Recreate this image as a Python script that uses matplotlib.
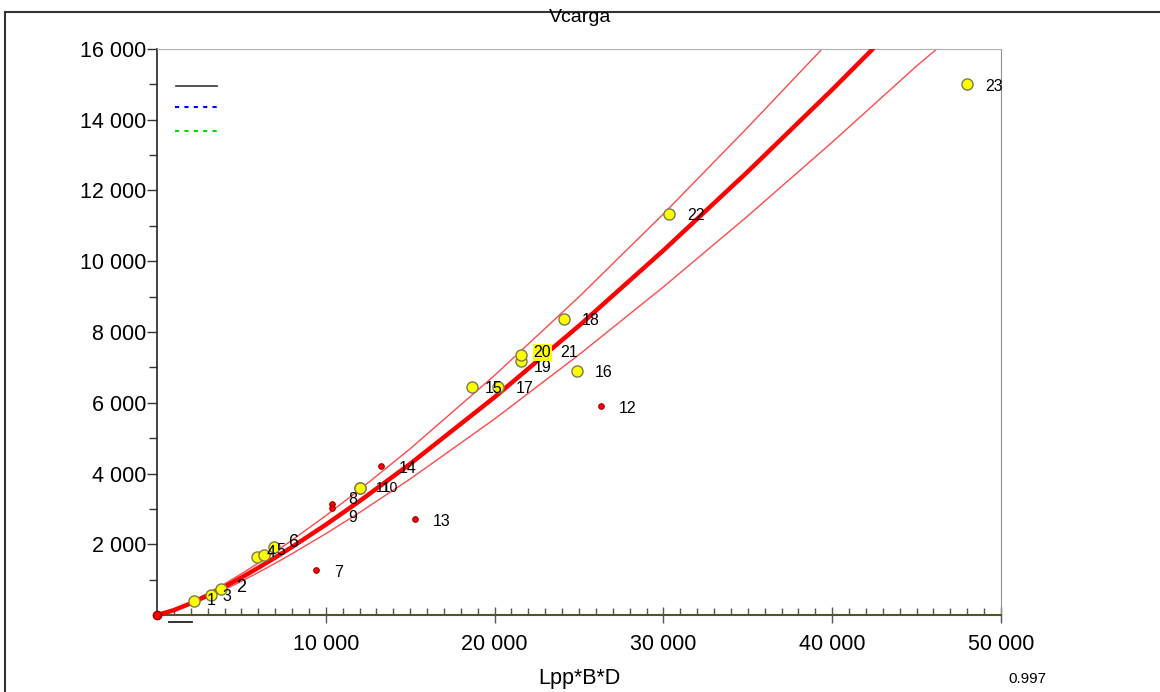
import numpy as np
import matplotlib
matplotlib.use("Agg")
import matplotlib.pyplot as plt
from matplotlib.lines import Line2D
from matplotlib.ticker import FixedLocator, FuncFormatter

plt.rcParams['font.family'] = ['Liberation Sans', 'DejaVu Sans']

# points
labels = ["1", "2", "3", "4", "5", "6", "7", "8", "9", "10", "11", "12",
          "13", "14", "15", "16", "17", "18", "19", "20", "21", "22", "23"]
lbd = [2190, 3790, 3200, 5900, 6340, 6930, 9420, 10370, 10370, 12050, 12050, 26300,
       15280, 13270, 18660, 24880, 20200, 24110, 21560, 21560, 22810, 30330, 47990]
vcarga = [396, 735, 565, 1640, 1700, 1920, 1270, 3140, 3020, 3590, 3590, 5910,
          2710, 4210, 6450, 6900, 6450, 8370, 7180, 7350, 7490, 11340, 15010]
kind = ["y", "y", "y", "y", "y", "y", "r", "r", "r", "y", "y", "r",
        "r", "r", "y", "y", "y", "y", "y", "y", "y", "y", "y"]

# regression curve and its band
curve_x = [0, 1000, 2000, 3000, 4000, 5000, 6000, 7000, 8000, 10000, 12000, 15000,
           20000, 25000, 30000, 35000, 40000, 42400]
curve_y = [0, 137, 331, 554, 798, 1059, 1335, 1623, 1924, 2553, 3219, 4273,
           6158, 8176, 10306, 12534, 14851, 16000]
upper_x = [0, 1000, 2000, 3000, 4000, 5000, 6000, 7000, 8000, 10000, 12000, 15000,
           20000, 25000, 30000, 35000, 39400]
upper_y = [0, 151, 364, 609, 878, 1165, 1469, 1785, 2116, 2808, 3541, 4700,
           6774, 8994, 11337, 13787, 16000]
lower_x = [0, 1000, 2000, 3000, 4000, 5000, 6000, 7000, 8000, 10000, 12000, 15000,
           20000, 25000, 30000, 35000, 40000, 42400, 45000, 46200]
lower_y = [0, 123, 298, 499, 718, 953, 1202, 1461, 1732, 2298, 2897, 3846,
           5542, 7358, 9275, 11281, 13366, 14400, 15520, 16000]

fig = plt.figure(figsize=(11.6, 6.92), dpi=100)
ax = fig.add_axes([157 / 1160, 1 - 615 / 692, 844 / 1160, 566 / 692])

ax.plot(upper_x, upper_y, color="#ff4a4a", lw=1.0, zorder=2)
ax.plot(lower_x, lower_y, color="#ff4a4a", lw=1.0, zorder=2)
ax.plot(curve_x, curve_y, color="#ff0000", lw=3.2, zorder=3, solid_capstyle="round")

# labels (a few shifted where they pile up; 11 and 10 run together as "110")
big = {"2": 13, "6": 13}
shift = {"1": (9, 0), "3": (8, -1), "4": (7, 3), "5": (9, 3), "11": (11, 0), "10": (15.9, 0),
         "8": (12, 3), "9": (12, -7), "15": (9, -1), "19": (9, -5), "20": (9, 2),
         "2": (11, 1), "6": (10, 3)}
for xv, yv, lab, k in zip(lbd, vcarga, labels, kind):
    if k == "y":
        ax.plot(xv, yv, "o", ms=8, mfc="#ffff00", mec="#7a7a50", mew=1.0, zorder=5)
    else:
        ax.plot(xv, yv, "o", ms=4, mfc="#ff0000", mec="#a00000", mew=0.8, zorder=5)
    dx, dy = shift.get(lab, (13, -1.5))
    if lab == "20":
        ax.annotate(lab, (xv, yv), xytext=(dx, dy), textcoords="offset points",
                    ha="left", va="center", fontsize=11.5, zorder=8,
                    bbox=dict(boxstyle="square,pad=0.05", fc="#ffff00", ec="none"))
    elif lab in ("10", "11"):
        ax.annotate(lab, (xv, yv), xytext=(dx, dy), textcoords="offset points",
                    ha="left", va="center", fontsize=10, zorder=6)
    else:
        ax.annotate(lab, (xv, yv), xytext=(dx, dy), textcoords="offset points",
                    ha="left", va="center", fontsize=big.get(lab, 11.5), zorder=6)

ax.plot(0, 0, "o", ms=6, mfc="#ff0000", mec="#900000", mew=1.0, zorder=6, clip_on=False)

ax.set_xlim(0, 50000)
ax.set_ylim(0, 16000)

fmt = FuncFormatter(lambda v, p: "" if v == 0 else f"{v:,.0f}".replace(",", " "))
ax.xaxis.set_major_locator(FixedLocator(np.arange(10000, 50001, 10000)))
ax.xaxis.set_minor_locator(FixedLocator(np.arange(1000, 50000, 1000)))
ax.yaxis.set_major_locator(FixedLocator(np.arange(2000, 16001, 2000)))
ax.yaxis.set_minor_locator(FixedLocator(np.arange(1000, 16000, 2000)))
ax.xaxis.set_major_formatter(fmt)
ax.yaxis.set_major_formatter(fmt)
ax.tick_params(axis="x", which="major", direction="inout", length=12, width=1,
               color="#555555", labelsize=15.5, pad=8)
ax.tick_params(axis="x", which="minor", direction="in", length=5, width=1, color="#555555")
ax.tick_params(axis="y", which="major", direction="out", length=7, width=1,
               color="#333333", labelsize=15.5, pad=1)
ax.tick_params(axis="y", which="minor", direction="out", length=6, width=1, color="#333333")

ax.spines["bottom"].set_color("#555522")
ax.spines["bottom"].set_linewidth(1.5)
ax.spines["left"].set_color("#222222")
ax.spines["left"].set_linewidth(1.2)
ax.spines["top"].set_color("#b0b0b0")
ax.spines["right"].set_color("#909090")

ax.set_xlabel("Lpp*B*D", fontsize=15.5, labelpad=9)

# empty legend lines top-left
ax.add_line(Line2D([0.0225, 0.0711], [0.9346, 0.9346], transform=ax.transAxes, color="#333333", lw=1.2))
ax.add_line(Line2D([0.0213, 0.0723], [0.8975, 0.8975], transform=ax.transAxes, color="#0000ff", lw=1.5, ls=(0, (2, 2.5))))
ax.add_line(Line2D([0.0213, 0.0723], [0.8550, 0.8550], transform=ax.transAxes, color="#00dd00", lw=1.5, ls=(0, (2, 2.5))))

# small mark under the axis
fig.add_artist(Line2D([169 / 1160, 192 / 1160], [1 - 622 / 692, 1 - 622 / 692], color="#222222", lw=1.3))

# outer frame
fig.add_artist(Line2D([5 / 1160, 1.0], [1 - 12 / 692, 1 - 12 / 692], color="#333333", lw=1.5))
fig.add_artist(Line2D([5 / 1160, 5 / 1160], [0, 1 - 12 / 692], color="#333333", lw=1.5))

fig.text(0.5, 1 - 17 / 692, "Vcarga", ha="center", va="center", fontsize=14)
fig.text(1027 / 1160, 1 - 679 / 692, "0.997", ha="center", va="center", fontsize=11)

fig.savefig("out.png", dpi=100)
